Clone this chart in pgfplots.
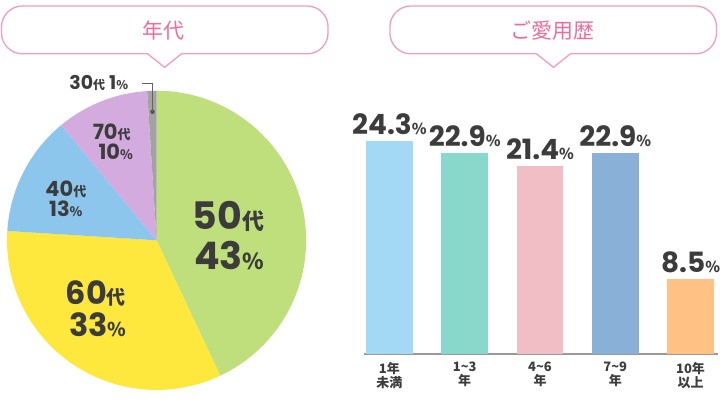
\documentclass[border=0pt]{standalone}
\usepackage{fontspec}
\usepackage{pgfplots}
\pgfplotsset{compat=1.18}
\setmainfont{Noto Sans CJK JP}
\newfontfamily\num{Poppins}

\definecolor{cgreen}{HTML}{BEDF7C}
\definecolor{cyellow}{HTML}{FFE83E}
\definecolor{cblue}{HTML}{8CC6EC}
\definecolor{cpurple}{HTML}{D3ABDF}
\definecolor{cgray}{HTML}{A3A3A3}
\definecolor{bA}{HTML}{A3D9F4}
\definecolor{bB}{HTML}{88D8CC}
\definecolor{bC}{HTML}{F2BEC5}
\definecolor{bD}{HTML}{89B1D7}
\definecolor{bE}{HTML}{FFC184}
\definecolor{txt}{HTML}{3C3C3C}
\definecolor{pinktxt}{HTML}{EF6C9A}
\definecolor{pinkline}{HTML}{F59BBB}

% label: digit size, suffix size, digits, suffix
\newcommand\lab[4]{{\fontsize{#1}{#1}\selectfont\num\bfseries #3}{\fontsize{#2}{#2}\selectfont\bfseries #4}}

% pie shares (%), clockwise from the top
\def\vA{43}\def\vB{33}\def\vC{13}\def\vD{10}\def\vE{1}

\begin{document}
\begin{tikzpicture}
\path (0pt,0pt) rectangle (720pt,420pt);

\begin{scope}[x=1pt,y=1pt]
% header bubbles
\foreach \xl/\xr/\px/\t in {1.5/329/165/年代, 391/718.5/555/ご愛用歴}{
  \draw[pinkline, line width=1.3pt, fill=white, rounded corners=21pt] (\xl,366) rectangle (\xr,414);
  \fill[white] (\px-17,366.8) -- (\px,352.5) -- (\px+17,366.8) -- cycle;
  \draw[pinkline, line width=1.3pt] (\px-17,366) -- (\px,352.5) -- (\px+17,366);
  \node[pinktxt, font=\fontsize{21}{21}\selectfont] at (\px-1,389) {\t};
}
\end{scope}

\pgfmathsetmacro\aA{90-3.6*\vA}
\pgfmathsetmacro\aB{\aA-3.6*\vB}
\pgfmathsetmacro\aC{\aB-3.6*\vC}
\pgfmathsetmacro\aD{\aC-3.6*\vD}
\pgfmathsetmacro\aE{\aD-3.6*\vE}

\begin{axis}[
    at={(7pt,29pt)}, anchor=south west,
    x=150pt, y=150pt,
    xmin=-1, xmax=1, ymin=-1, ymax=1,
    hide axis, clip=false,
]
\fill[cgreen]  (axis cs:0,0) -- (axis cs:0,1) arc[start angle=90, end angle=\aA, radius=150pt] -- cycle;
\fill[cyellow] (axis cs:0,0) -- (axis cs:{cos(\aA)},{sin(\aA)}) arc[start angle=\aA, end angle=\aB, radius=150pt] -- cycle;
\fill[cblue]   (axis cs:0,0) -- (axis cs:{cos(\aB)},{sin(\aB)}) arc[start angle=\aB, end angle=\aC, radius=150pt] -- cycle;
\fill[cpurple] (axis cs:0,0) -- (axis cs:{cos(\aC)},{sin(\aC)}) arc[start angle=\aC, end angle=\aD, radius=150pt] -- cycle;
\fill[cgray]   (axis cs:0,0) -- (axis cs:{cos(\aD)},{sin(\aD)}) arc[start angle=\aD, end angle=\aE, radius=150pt] -- cycle;
% leader for the 1% slice
\fill[txt!90] (axis cs:{0.86*cos(91.8)},{0.86*sin(91.8)}) circle[radius=2.2pt];
\draw[txt!80, line width=0.9pt] (axis cs:{0.86*cos(91.8)},{0.86*sin(91.8)}) |- (axis cs:-0.1,1.047);
\end{axis}

% pie labels
\begin{scope}[x=1pt, y=1pt, every node/.style={txt, inner sep=0pt, anchor=base}]
\node at (229,190) {\lab{38}{22}{50}{代}};
\node at (230,150) {\lab{38}{22}{43}{\%}};
\node at (96,115)  {\lab{32}{19}{60}{代}};
\node at (98,83)   {\lab{32}{19}{33}{\%}};
\node at (66,223)  {\lab{21}{13}{40}{代}};
\node at (66,203)  {\lab{21}{13}{13}{\%}};
\node at (112,280) {\lab{21}{13}{70}{代}};
\node at (116,260) {\lab{21}{13}{10}{\%}};
\node at (99,330)  {\lab{19}{12}{30}{代}\hspace{4pt}\lab{19}{12}{1}{\%}};
\end{scope}

% bar chart
\begin{axis}[
    at={(364.83pt,65pt)}, anchor=south west,
    x=75.5pt, y=8.81pt,
    xmin=-0.34, xmax=4.36, ymin=0, ymax=26,
    ybar, bar width=47pt, bar shift=0pt,
    axis x line*=bottom, hide y axis,
    axis line style={draw=black!40, line width=2pt, -},
    xtick={0,1,2,3,4},
    xticklabels={1年\\未満, 1\textasciitilde3\\年, 4\textasciitilde6\\年, 7\textasciitilde9\\年, 10年\\以上},
    major tick length=0pt,
    xticklabel style={txt, align=center, font=\fontsize{13}{14}\selectfont\bfseries, inner sep=0pt, yshift=-8pt},
    /pgf/number format/assume math mode=true,
    /pgf/number format/.cd, fixed, fixed zerofill, precision=1, /pgfplots/.cd,
    nodes near coords={\lab{28}{15}{\pgfmathprintnumber{\pgfplotspointmeta}}{\%}},
    every node near coord/.append style={txt, inner sep=0pt, anchor=south, yshift=6pt},
    clip=false,
]
\addplot[fill=bA, draw=none] coordinates {(0,24.3)};
\addplot[fill=bB, draw=none] coordinates {(1,22.9)};
\addplot[fill=bC, draw=none] coordinates {(2,21.4)};
\addplot[fill=bD, draw=none] coordinates {(3,22.9)};
\addplot[fill=bE, draw=none] coordinates {(4,8.5)};
\end{axis}
\end{tikzpicture}
\end{document}
